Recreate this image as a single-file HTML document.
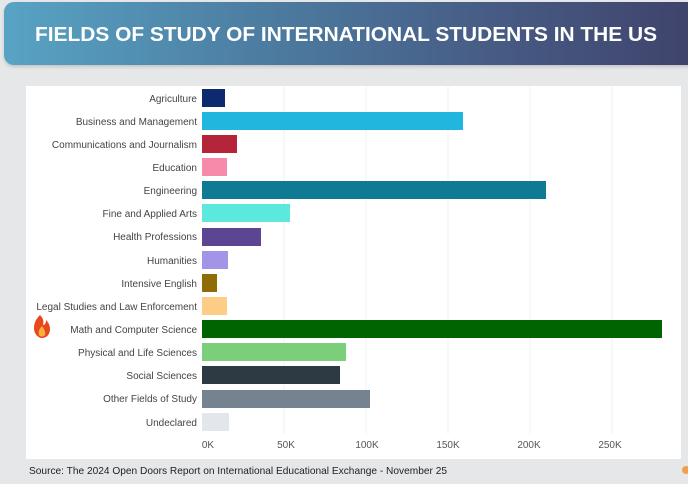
<!DOCTYPE html>
<html><head><meta charset="utf-8"><style>
html,body{margin:0;padding:0;width:688px;height:484px;overflow:hidden;background:#e6e7e9;font-family:"Liberation Sans",Arial,sans-serif;}
.hdr{position:absolute;left:4px;top:2px;width:690px;height:63px;border-radius:10px 0 0 10px;background:linear-gradient(90deg,#58a3c4 0%,#4d7fa3 35%,#475c85 70%,#3f436b 100%);box-shadow:0 2px 3px rgba(0,0,0,0.15);}
.panel{position:absolute;left:26px;top:86px;width:655px;height:373px;background:#fff;}
</style></head><body>
<div class="hdr"></div>
<div class="panel"></div>
<svg width="688" height="484" style="position:absolute;left:0;top:0">
<text x="35" y="41" font-size="20" font-weight="bold" fill="#fff" textLength="622" lengthAdjust="spacingAndGlyphs" font-family="Liberation Sans,Arial,sans-serif">FIELDS OF STUDY OF INTERNATIONAL STUDENTS IN THE US</text>
<g stroke="#f0f0f0" stroke-width="1">
<line x1="284" y1="86" x2="284" y2="434"/><line x1="366" y1="86" x2="366" y2="434"/><line x1="448" y1="86" x2="448" y2="434"/><line x1="530" y1="86" x2="530" y2="434"/><line x1="612" y1="86" x2="612" y2="434"/>
</g>
<g font-size="10" fill="#444" text-anchor="end" font-family="Liberation Sans,Arial,sans-serif">
<text x="197" y="102">Agriculture</text>
<text x="197" y="125">Business and Management</text>
<text x="197" y="148">Communications and Journalism</text>
<text x="197" y="171">Education</text>
<text x="197" y="194">Engineering</text>
<text x="197" y="217">Fine and Applied Arts</text>
<text x="197" y="240">Health Professions</text>
<text x="197" y="264">Humanities</text>
<text x="197" y="287">Intensive English</text>
<text x="197" y="310">Legal Studies and Law Enforcement</text>
<text x="197" y="333">Math and Computer Science</text>
<text x="197" y="356">Physical and Life Sciences</text>
<text x="197" y="379">Social Sciences</text>
<text x="197" y="402">Other Fields of Study</text>
<text x="197" y="426">Undeclared</text>
</g>
<g>
<rect x="202" y="89" width="23" height="18" fill="#0d2a6e"/>
<rect x="202" y="112" width="261" height="18" fill="#20b6de"/>
<rect x="202" y="135" width="35" height="18" fill="#b5253a"/>
<rect x="202" y="158" width="25" height="18" fill="#f78aaa"/>
<rect x="202" y="181" width="344" height="18" fill="#0e7a94"/>
<rect x="202" y="204" width="88" height="18" fill="#5ce8dc"/>
<rect x="202" y="228" width="59" height="18" fill="#5c4592"/>
<rect x="202" y="251" width="26" height="18" fill="#a394e8"/>
<rect x="202" y="274" width="15" height="18" fill="#8f6c05"/>
<rect x="202" y="297" width="25" height="18" fill="#fdcd85"/>
<rect x="202" y="320" width="460" height="18" fill="#006400"/>
<rect x="202" y="343" width="144" height="18" fill="#7bcf7b"/>
<rect x="202" y="366" width="138" height="18" fill="#2d3a44"/>
<rect x="202" y="390" width="168" height="18" fill="#75828f"/>
<rect x="202" y="413" width="27" height="18" fill="#e3e6ea"/>
</g>
<g font-size="10" fill="#555" text-anchor="middle" font-family="Liberation Sans,Arial,sans-serif">
<text x="208" y="448">0K</text><text x="286" y="448">50K</text><text x="367" y="448">100K</text><text x="448" y="448">150K</text><text x="529" y="448">200K</text><text x="610" y="448">250K</text>
</g>
<path d="M40 315 C37 318 34 322 34 328 C34 334 38 338 42 338 C47 338 50 334 50 329 C50 325 48 322 46 320 C46 323 45 325 43 325 C44 321 43 318 40 315 Z" fill="#e8481c"/>
<path d="M42 326 C39 329 38 332 39 335 C40 337 44 337 45 335 C46 332 44 329 42 326 Z" fill="#fbb03b"/>
<circle cx="686" cy="470" r="4" fill="#f0a050"/>
<text x="29" y="474" font-size="10.5" fill="#222" textLength="418" lengthAdjust="spacingAndGlyphs" font-family="Liberation Sans,Arial,sans-serif">Source: The 2024 Open Doors Report on International Educational Exchange - November 25</text>
</svg>
</body></html>
